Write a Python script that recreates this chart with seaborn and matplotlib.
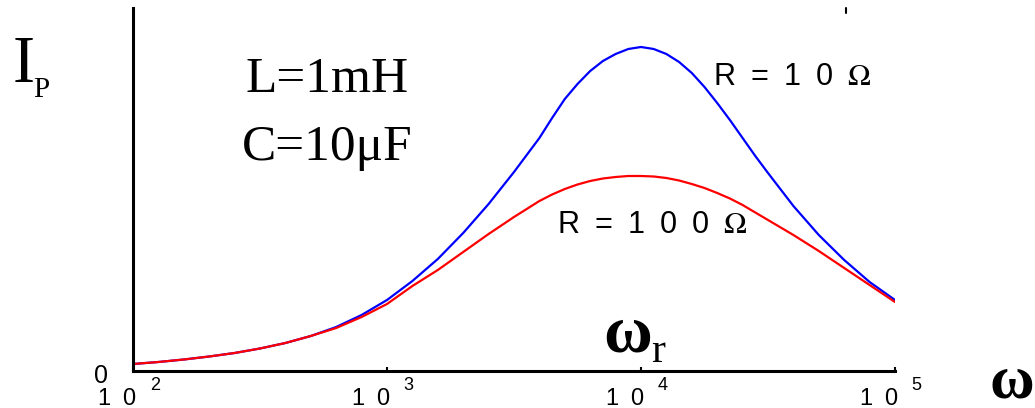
import numpy as np
import pandas as pd
import matplotlib
matplotlib.use("Agg")
import matplotlib.pyplot as plt
from matplotlib.lines import Line2D
import seaborn as sns

# ---- data (arbitrary current units) ----
log_omega = [2.0, 2.1, 2.2, 2.3, 2.4, 2.5, 2.6, 2.7, 2.8, 2.9, 3.0, 3.1, 3.2,
             3.3, 3.4, 3.5, 3.55, 3.6, 3.65, 3.7, 3.75, 3.8, 3.85, 3.9, 3.95,
             4.0, 4.05, 4.1, 4.15, 4.2, 4.25, 4.3, 4.35, 4.4, 4.45, 4.5,
             4.6, 4.7, 4.8, 4.9, 5.0]
i_r10 = [7, 9, 11.5, 14.5, 18, 22.5, 28, 35, 44, 56, 71, 90, 112, 138, 167,
         199, 216, 233, 253, 272, 287, 300, 310, 317, 322,
         324, 322, 317, 309, 298, 284, 268, 251, 233, 215, 198,
         165, 136, 111, 89, 71]
i_r100 = [7, 9, 11.5, 14.5, 18, 22.5, 28, 35, 43, 54, 67, 85, 101, 119, 137,
          154, 162, 170, 176.5, 182, 186.5, 190, 192.5, 194, 195,
          195, 194.5, 193, 190.5, 187, 183, 178, 172.5, 166, 158.5, 151,
          136, 120, 103, 86, 69]
series_names = ["R = 10 Ω", "R = 100 Ω"]
xtick_values = [1e2, 1e3, 1e4, 1e5]
xtick_exps = ["2", "3", "4", "5"]

omega = [10 ** v for v in log_omega]
df = pd.DataFrame({
    "omega": omega * 2,
    "I": i_r10 + i_r100,
    "R": [series_names[0]] * len(omega) + [series_names[1]] * len(omega),
})

sns.set_theme(style="white")
plt.rcParams["font.family"] = ["Liberation Sans", "DejaVu Sans"]
plt.rcParams["mathtext.fontset"] = "stix"

W, H = 1035, 408
fig = plt.figure(figsize=(W / 100, H / 100), dpi=100)
ax = fig.add_axes([133 / W, 1 - 371 / H, (895 - 133) / W, (371 - 8) / H])
ax.set_xscale("log")

sns.lineplot(data=df, x="omega", y="I", hue="R",
             palette={series_names[0]: "#0000ff", series_names[1]: "#ff0000"},
             linewidth=1.6, legend=False, ax=ax)

ax.set_xlim(1e2, 1e5)
ax.set_ylim(0, 363)
sns.despine(ax=ax)
for s in ["left", "bottom"]:
    ax.spines[s].set_color("black")
    ax.spines[s].set_linewidth(2.2)
ax.set_xlabel("")
ax.set_ylabel("")
ax.set_xticks(xtick_values)
ax.set_xticklabels([""] * len(xtick_values))
ax.xaxis.set_minor_locator(matplotlib.ticker.NullLocator())
ax.tick_params(axis="x", direction="in", length=3, width=1.5, color="black", bottom=True)
ax.set_yticks([])

EN = "\u2002"
# x tick labels "1 0" with superscript exponent
for v, e in zip(xtick_values, xtick_exps):
    ax.annotate("1" + EN + "0", xy=(v, 0), xycoords=("data", "axes fraction"),
                xytext=(2, -24.2), textcoords="offset points",
                ha="right", va="baseline", fontsize=17, color="black",
                annotation_clip=False)
    ax.annotate(e, xy=(v, 0), xycoords=("data", "axes fraction"),
                xytext=(12, -13.7), textcoords="offset points",
                ha="left", va="baseline", fontsize=13, color="black",
                annotation_clip=False)
# y "0" label
ax.annotate("0", xy=(0, 0), xycoords="axes fraction", xytext=(-18, -8.6),
            textcoords="offset points", ha="right", va="baseline",
            fontsize=18, color="black", annotation_clip=False)

# curve labels
ax.text(1.92e4, 286, "R" + EN + "=" + EN + "1" + EN + "0" + EN + r"$\Omega$",
        fontsize=22, ha="left", va="baseline", color="black")
ax.text(4.67e3, 138, "R" + EN + "=" + EN + "1" + EN + "0" + EN + "0" + EN + r"$\Omega$",
        fontsize=22, ha="left", va="baseline", color="black")

serif = ["Liberation Serif", "DejaVu Serif"]
# resonance label
ax.text(7.08e3, 19, "ω", family=serif, fontweight="bold", fontsize=48,
        ha="left", va="baseline", color="black")
ax.text(1.1e4, 9, "r", family=serif, fontsize=30, ha="left", va="baseline",
        color="black")

# axis titles and parameters
fig.text(13 / W, 1 - 82 / H, "I", family=serif, fontsize=48, ha="left",
         va="baseline", color="black")
fig.text(33 / W, 1 - 97 / H, "P", family=serif, fontsize=21, ha="left",
         va="baseline", color="black")
fig.text(990 / W, 1 - 397 / H, "ω", family=serif, fontweight="bold",
         fontsize=44, ha="left", va="baseline", color="black")
fig.text(327 / W, 1 - 92 / H, "L=1mH", family=serif, fontsize=37, ha="center",
         va="baseline", color="black")
fig.text(327 / W, 1 - 160 / H, "C=10μF", family=serif, fontsize=37, ha="center",
         va="baseline", color="black")

# small stray tick at the top right of the reference frame
fig.add_artist(Line2D([846 / W, 846 / W], [1 - 8 / H, 1 - 13 / H],
                      color="black", linewidth=1.5))

fig.savefig("out.png", dpi=100, facecolor="white")
